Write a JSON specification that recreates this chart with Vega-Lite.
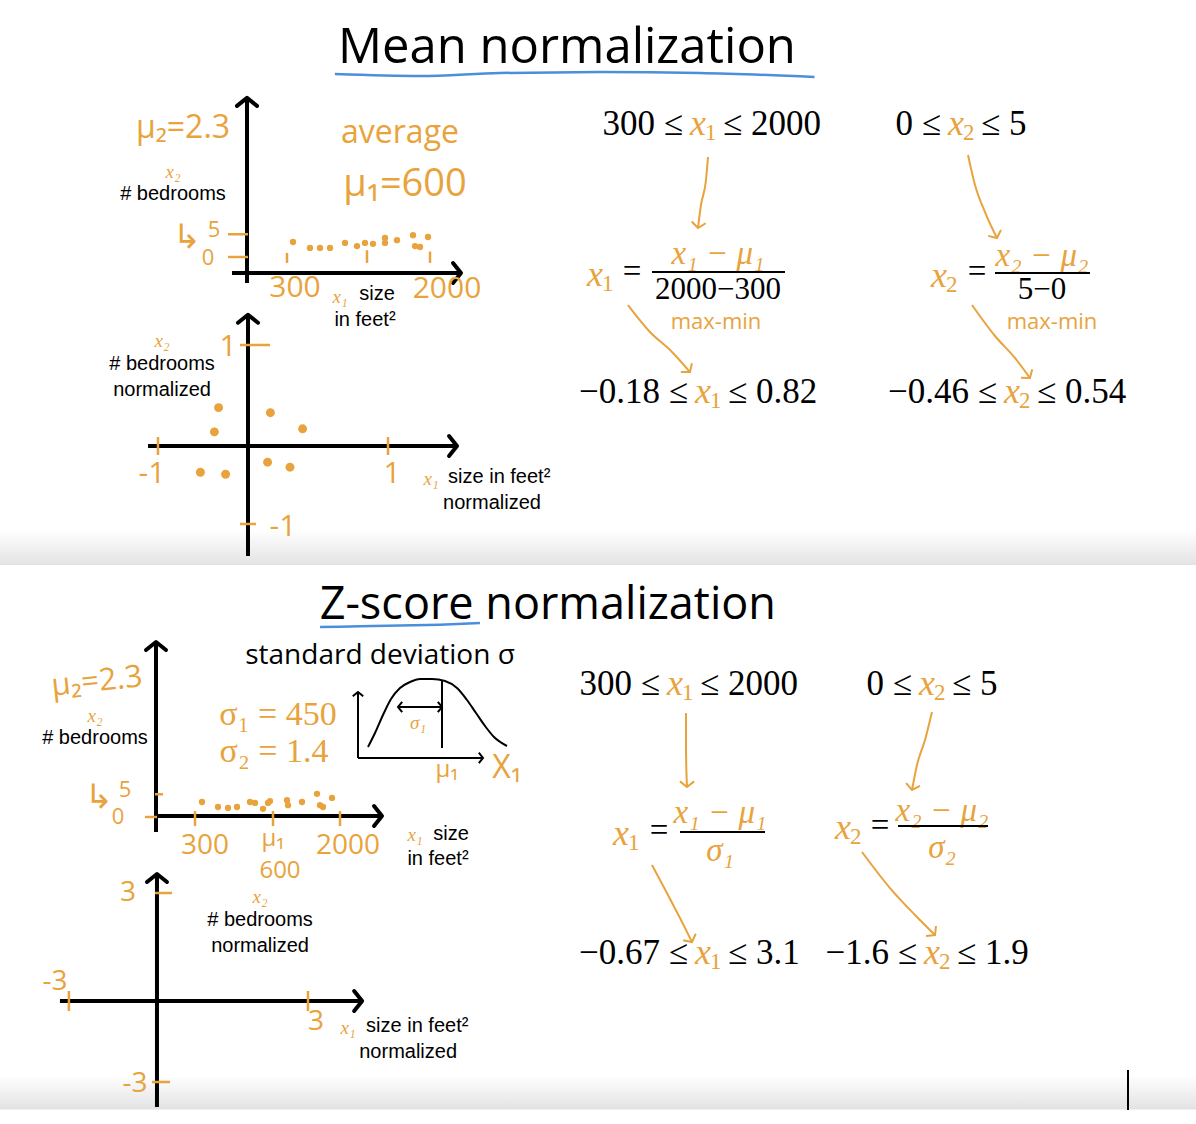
{
"$schema": "https://vega.github.io/schema/vega-lite/v6.json",
"padding": 0,
"background": "white",
"spacing": 0,
"bounds": "flush",
"config": {"view": {"stroke": null}, "axis": {"disable": true}},
"vconcat": [
{
 "width": 1196, "height": 95,
 "encoding": {
  "x": {"field": "fx", "type": "quantitative", "scale": {"domain": [0, 1], "nice": false, "zero": false}, "axis": null},
  "y": {"field": "fy", "type": "quantitative", "scale": {"domain": [0, 1], "nice": false, "zero": false, "reverse": true}, "axis": null}
 },
 "layer": [
  {"data": {"values": [{"fx": 0.474, "fy": 0.66, "label": "Mean normalization"}]},
   "mark": {"type": "text", "font": "Open Sans", "fontSize": 49, "fill": "black", "baseline": "alphabetic", "align": "center"},
   "encoding": {"text": {"field": "label"}}},
  {"data": {"values": [{"fx": 0.280, "fy": 0.779}, {"fx": 0.351, "fy": 0.80}, {"fx": 0.418, "fy": 0.768}, {"fx": 0.502, "fy": 0.758}, {"fx": 0.585, "fy": 0.768}, {"fx": 0.681, "fy": 0.81}]},
   "mark": {"type": "line", "stroke": "#4A8FDB", "strokeWidth": 2.5, "interpolate": "monotone"},
   "encoding": {}}
 ]
},
{
 "width": 1196, "height": 470,
 "view": {"fill": {"gradient": "linear", "x1": 0, "y1": 0, "x2": 0, "y2": 1, "stops": [{"offset": 0, "color": "#ffffff"}, {"offset": 0.925, "color": "#ffffff"}, {"offset": 1, "color": "#e3e3e3"}]}},
 "resolve": {"scale": {"x": "independent", "y": "independent"}},
 "layer": [
  {
   "encoding": {
    "x": {"field": "sqft", "type": "quantitative", "scale": {"domain": [-3144, 11208], "nice": false, "zero": false}, "axis": null},
    "y": {"field": "bedrooms", "type": "quantitative", "scale": {"domain": [-67.76, 35.64], "nice": false, "zero": false}, "axis": null}
   },
   "layer": [
    {"data": {"values": [{"sqft": -180, "bedrooms": -5.72, "sqft2": -180, "bedrooms2": 35.0}, {"sqft": -360, "bedrooms": -3.52, "sqft2": 2388, "bedrooms2": -3.52}]},
     "mark": {"type": "rule", "stroke": "black", "strokeWidth": 4},
     "encoding": {"x2": {"field": "sqft2"}, "y2": {"field": "bedrooms2"}}},
    {"data": {"values": [{"sqft": -180, "bedrooms": 35.0, "heading": 0}, {"sqft": 2388, "bedrooms": -3.52, "heading": 90}]},
     "mark": {"type": "point", "shape": "M-1,0.8L0,0L1,0.8", "filled": false, "stroke": "black", "strokeWidth": 4, "size": 400, "opacity": 1, "strokeCap": "round", "strokeJoin": "round"},
     "encoding": {"angle": {"field": "heading", "type": "quantitative", "scale": null}}},
    {"data": {"values": [{"sqft": -408, "bedrooms": 5, "sqft2": -168, "bedrooms2": 5}, {"sqft": -408, "bedrooms": 0, "sqft2": -168, "bedrooms2": 0}, {"sqft": 300, "bedrooms": 0.9, "sqft2": 300, "bedrooms2": -1.3}, {"sqft": 1260, "bedrooms": 1.5, "sqft2": 1260, "bedrooms2": -1.3}, {"sqft": 2016, "bedrooms": 1.2, "sqft2": 2016, "bedrooms2": -1.3}]},
     "mark": {"type": "rule", "stroke": "#E8A33C", "strokeWidth": 2.5},
     "encoding": {"x2": {"field": "sqft2"}, "y2": {"field": "bedrooms2"}}},
    {"data": {"values": [{"sqft": 372, "bedrooms": 3.3}, {"sqft": 576, "bedrooms": 2.0}, {"sqft": 696, "bedrooms": 2.0}, {"sqft": 816, "bedrooms": 2.0}, {"sqft": 996, "bedrooms": 3.1}, {"sqft": 1140, "bedrooms": 2.4}, {"sqft": 1236, "bedrooms": 3.1}, {"sqft": 1332, "bedrooms": 2.9}, {"sqft": 1476, "bedrooms": 4.2}, {"sqft": 1476, "bedrooms": 3.1}, {"sqft": 1620, "bedrooms": 3.7}, {"sqft": 1812, "bedrooms": 4.8}, {"sqft": 1992, "bedrooms": 4.4}, {"sqft": 1836, "bedrooms": 2.4}, {"sqft": 1896, "bedrooms": 2.2}]},
     "mark": {"type": "point", "filled": true, "shape": "circle", "fill": "#E8A33C", "size": 40, "opacity": 1}},
    {"data": {"values": [{"sqft": 1716, "bedrooms": 15.84, "label": "μ₁=600"}]},
     "mark": {"type": "text", "font": "Open Sans", "fontSize": 38, "fill": "#E8A33C", "baseline": "middle", "align": "center"},
     "encoding": {"text": {"field": "label"}}},
    {"data": {"values": [{"sqft": -948, "bedrooms": 28.4, "label": "μ₂=2.3"}, {"sqft": 1656, "bedrooms": 27.3, "label": "average"}]},
     "mark": {"type": "text", "font": "Open Sans", "fontSize": 32, "fill": "#E8A33C", "baseline": "middle", "align": "center"},
     "encoding": {"text": {"field": "label"}}},
    {"data": {"values": [{"sqft": 396, "bedrooms": -6.82, "label": "300"}, {"sqft": 2220, "bedrooms": -7.04, "label": "2000"}]},
     "mark": {"type": "text", "font": "Open Sans", "fontSize": 30, "fill": "#E8A33C", "baseline": "middle", "align": "center"},
     "encoding": {"text": {"field": "label"}}},
    {"data": {"values": [{"sqft": -900, "bedrooms": 4.2, "label": "↳"}]},
     "mark": {"type": "text", "font": "DejaVu Sans", "fontSize": 34, "fill": "#E8A33C", "baseline": "middle", "align": "center"},
     "encoding": {"text": {"field": "label"}}},
    {"data": {"values": [{"sqft": -576, "bedrooms": 5.94, "label": "5"}, {"sqft": -648, "bedrooms": -0.22, "label": "0"}]},
     "mark": {"type": "text", "font": "Open Sans", "fontSize": 22, "fill": "#E8A33C", "baseline": "middle", "align": "center"},
     "encoding": {"text": {"field": "label"}}},
    {"data": {"values": [{"sqft": -1068, "bedrooms": 18.7, "label": "x₂"}, {"sqft": 936, "bedrooms": -8.8, "label": "x₁"}]},
     "mark": {"type": "text", "font": "Liberation Serif", "fontStyle": "italic", "fontSize": 19, "fill": "#E8A33C", "baseline": "middle", "align": "center"},
     "encoding": {"text": {"field": "label"}}},
    {"data": {"values": [{"sqft": -1068, "bedrooms": 13.86, "label": "# bedrooms"}, {"sqft": 1380, "bedrooms": -8.14, "label": "size"}, {"sqft": 1236, "bedrooms": -13.86, "label": "in feet²"}]},
     "mark": {"type": "text", "font": "Liberation Sans", "fontSize": 20, "fill": "black", "baseline": "middle", "align": "center"},
     "encoding": {"text": {"field": "label"}}}
   ]
  },
  {
   "encoding": {
    "x": {"field": "x1n", "type": "quantitative", "scale": {"domain": [-1.7714, 6.7714], "nice": false, "zero": false}, "axis": null},
    "y": {"field": "x2n", "type": "quantitative", "scale": {"domain": [-1.1782, 3.4752], "nice": false, "zero": false}, "axis": null}
   },
   "layer": [
    {"data": {"values": [{"x1n": 0, "x2n": -1.089, "x1n2": 0, "x2n2": 1.30}, {"x1n": -0.714, "x2n": 0, "x1n2": 1.493, "x2n2": 0}]},
     "mark": {"type": "rule", "stroke": "black", "strokeWidth": 4},
     "encoding": {"x2": {"field": "x1n2"}, "y2": {"field": "x2n2"}}},
    {"data": {"values": [{"x1n": 0, "x2n": 1.30, "heading": 0}, {"x1n": 1.493, "x2n": 0, "heading": 90}]},
     "mark": {"type": "point", "shape": "M-1,0.8L0,0L1,0.8", "filled": false, "stroke": "black", "strokeWidth": 4, "size": 400, "opacity": 1, "strokeCap": "round", "strokeJoin": "round"},
     "encoding": {"angle": {"field": "heading", "type": "quantitative", "scale": null}}},
    {"data": {"values": [{"x1n": -0.643, "x2n": 0.089, "x1n2": -0.643, "x2n2": -0.089}, {"x1n": 1.0, "x2n": 0.089, "x1n2": 1.0, "x2n2": -0.089}, {"x1n": -0.057, "x2n": 1.0, "x1n2": 0.157, "x2n2": 1.0}, {"x1n": -0.057, "x2n": -0.772, "x1n2": 0.057, "x2n2": -0.772}]},
     "mark": {"type": "rule", "stroke": "#E8A33C", "strokeWidth": 2.5},
     "encoding": {"x2": {"field": "x1n2"}, "y2": {"field": "x2n2"}}},
    {"data": {"values": [{"x1n": -0.21, "x2n": 0.38}, {"x1n": -0.24, "x2n": 0.14}, {"x1n": -0.34, "x2n": -0.26}, {"x1n": -0.16, "x2n": -0.28}, {"x1n": 0.16, "x2n": 0.33}, {"x1n": 0.39, "x2n": 0.17}, {"x1n": 0.14, "x2n": -0.16}, {"x1n": 0.30, "x2n": -0.21}]},
     "mark": {"type": "point", "filled": true, "shape": "circle", "fill": "#E8A33C", "size": 80, "opacity": 1}},
    {"data": {"values": [{"x1n": -0.143, "x2n": 0.98, "label": "1"}, {"x1n": -0.686, "x2n": -0.277, "label": "-1"}, {"x1n": 1.029, "x2n": -0.277, "label": "1"}, {"x1n": 0.25, "x2n": -0.80, "label": "-1"}]},
     "mark": {"type": "text", "font": "Open Sans", "fontSize": 30, "fill": "#E8A33C", "baseline": "middle", "align": "center"},
     "encoding": {"text": {"field": "label"}}},
    {"data": {"values": [{"x1n": -0.614, "x2n": 1.04, "label": "x₂"}, {"x1n": 1.307, "x2n": -0.327, "label": "x₁"}]},
     "mark": {"type": "text", "font": "Liberation Serif", "fontStyle": "italic", "fontSize": 19, "fill": "#E8A33C", "baseline": "middle", "align": "center"},
     "encoding": {"text": {"field": "label"}}},
    {"data": {"values": [{"x1n": -0.614, "x2n": 0.812, "label": "# bedrooms"}, {"x1n": -0.614, "x2n": 0.554, "label": "normalized"}, {"x1n": 1.743, "x2n": -0.564, "label": "normalized"}]},
     "mark": {"type": "text", "font": "Liberation Sans", "fontSize": 20, "fill": "black", "baseline": "middle", "align": "center"},
     "encoding": {"text": {"field": "label"}}},
    {"data": {"values": [{"x1n": 1.429, "x2n": -0.307, "label": "size in feet²"}]},
     "mark": {"type": "text", "font": "Liberation Sans", "fontSize": 20, "fill": "black", "baseline": "middle", "align": "left"},
     "encoding": {"text": {"field": "label"}}}
   ]
  },
  {
   "encoding": {
    "x": {"field": "col", "type": "quantitative", "scale": {"domain": [-1.35, 2.6367], "nice": false, "zero": false}, "axis": null},
    "y": {"field": "row", "type": "quantitative", "scale": {"domain": [0.7836, 4.291], "nice": false, "zero": false, "reverse": true}, "axis": null}
   },
   "layer": [
    {"data": {"values": [{"col": 0.9267, "row": 1, "label": "300 ≤"}, {"col": 1.7867, "row": 1, "label": "0 ≤"}, {"col": 0.9433, "row": 3, "label": "−0.18 ≤"}, {"col": 1.9733, "row": 3, "label": "−0.46 ≤"}]},
     "mark": {"type": "text", "font": "Liberation Serif", "fontSize": 35, "fill": "black", "baseline": "middle", "align": "right"},
     "encoding": {"text": {"field": "label"}}},
    {"data": {"values": [{"col": 1.06, "row": 1, "label": "≤ 2000"}, {"col": 1.92, "row": 1, "label": "≤ 5"}, {"col": 1.0767, "row": 3, "label": "≤ 0.82"}, {"col": 2.1067, "row": 3, "label": "≤ 0.54"}]},
     "mark": {"type": "text", "font": "Liberation Serif", "fontSize": 35, "fill": "black", "baseline": "middle", "align": "left"},
     "encoding": {"text": {"field": "label"}}},
    {"data": {"values": [{"col": 0.9933, "row": 1, "name": "x", "sub": "1"}, {"col": 1.8533, "row": 1, "name": "x", "sub": "2"}, {"col": 1.01, "row": 3, "name": "x", "sub": "1"}, {"col": 2.04, "row": 3, "name": "x", "sub": "2"}, {"col": 0.65, "row": 2.127, "name": "x", "sub": "1"}, {"col": 1.7967, "row": 2.134, "name": "x", "sub": "2"}]},
     "layer": [
      {"mark": {"type": "text", "font": "Liberation Serif", "fontStyle": "italic", "fontSize": 36, "fill": "#E8A33C", "baseline": "middle", "align": "center", "dx": -5},
       "encoding": {"text": {"field": "name"}}},
      {"mark": {"type": "text", "font": "Liberation Serif", "fontSize": 23, "fill": "#E8A33C", "baseline": "middle", "align": "left", "dx": 2, "dy": 9},
       "encoding": {"text": {"field": "sub"}}}
     ]},
    {"data": {"values": [{"col": 0.7567, "row": 2.104, "label": "="}, {"col": 1.9067, "row": 2.104, "label": "="}]},
     "mark": {"type": "text", "font": "Liberation Serif", "fontSize": 33, "fill": "black", "baseline": "middle", "align": "center"},
     "encoding": {"text": {"field": "label"}}},
    {"data": {"values": [{"col": 1.0433, "row": 2.238, "label": "2000−300"}, {"col": 2.1233, "row": 2.24, "label": "5−0"}]},
     "mark": {"type": "text", "font": "Liberation Serif", "fontSize": 31, "fill": "black", "baseline": "middle", "align": "center"},
     "encoding": {"text": {"field": "label"}}},
    {"data": {"values": [{"col": 1.0433, "row": 1.97, "label": "x₁ − μ₁"}, {"col": 2.1233, "row": 1.985, "label": "x₂ − μ₂"}]},
     "mark": {"type": "text", "font": "Liberation Serif", "fontStyle": "italic", "fontSize": 33, "fill": "#E8A33C", "baseline": "middle", "align": "center"},
     "encoding": {"text": {"field": "label"}}},
    {"data": {"values": [{"col": 0.8233, "row": 2.104, "col2": 1.2667}, {"col": 1.9667, "row": 2.112, "col2": 2.2833}]},
     "mark": {"type": "rule", "stroke": "black", "strokeWidth": 2},
     "encoding": {"x2": {"field": "col2"}}},
    {"data": {"values": [{"col": 1.0367, "row": 2.475, "label": "max-min"}, {"col": 2.1567, "row": 2.475, "label": "max-min"}]},
     "mark": {"type": "text", "font": "Open Sans", "fontSize": 22, "fill": "#E8A33C", "baseline": "middle", "align": "center"},
     "encoding": {"text": {"field": "label"}}},
    {"data": {"values": [
      {"arrow": "a1", "seq": 1, "col": 1.01, "row": 1.246}, {"arrow": "a1", "seq": 2, "col": 1.0033, "row": 1.418}, {"arrow": "a1", "seq": 3, "col": 0.9867, "row": 1.604}, {"arrow": "a1", "seq": 4, "col": 0.9767, "row": 1.776},
      {"arrow": "a2", "seq": 1, "col": 1.8767, "row": 1.231}, {"arrow": "a2", "seq": 2, "col": 1.9, "row": 1.455}, {"arrow": "a2", "seq": 3, "col": 1.9333, "row": 1.657}, {"arrow": "a2", "seq": 4, "col": 1.9733, "row": 1.851},
      {"arrow": "a3", "seq": 1, "col": 0.7433, "row": 2.351}, {"arrow": "a3", "seq": 2, "col": 0.8167, "row": 2.552}, {"arrow": "a3", "seq": 3, "col": 0.89, "row": 2.701}, {"arrow": "a3", "seq": 4, "col": 0.95, "row": 2.851},
      {"arrow": "a4", "seq": 1, "col": 1.89, "row": 2.351}, {"arrow": "a4", "seq": 2, "col": 1.9667, "row": 2.582}, {"arrow": "a4", "seq": 3, "col": 2.0333, "row": 2.746}, {"arrow": "a4", "seq": 4, "col": 2.0833, "row": 2.896}
     ]},
     "mark": {"type": "line", "stroke": "#E8A33C", "strokeWidth": 2, "interpolate": "monotone"},
     "encoding": {"detail": {"field": "arrow"}, "order": {"field": "seq", "type": "quantitative"}}},
    {"data": {"values": [{"col": 0.9767, "row": 1.776, "heading": 187}, {"col": 1.9733, "row": 1.851, "heading": 155}, {"col": 0.95, "row": 2.851, "heading": 141}, {"col": 2.0833, "row": 2.896, "heading": 143}]},
     "mark": {"type": "point", "shape": "M-1,0.8L0,0L1,0.8", "filled": false, "stroke": "#E8A33C", "strokeWidth": 2, "size": 200, "opacity": 1},
     "encoding": {"angle": {"field": "heading", "type": "quantitative", "scale": null}}}
   ]
  }
 ]
},
{
 "width": 1196, "height": 70,
 "encoding": {
  "x": {"field": "fx", "type": "quantitative", "scale": {"domain": [0, 1], "nice": false, "zero": false}, "axis": null},
  "y": {"field": "fy", "type": "quantitative", "scale": {"domain": [0, 1], "nice": false, "zero": false, "reverse": true}, "axis": null}
 },
 "layer": [
  {"data": {"values": [{"fx": 0.458, "fy": 0.771, "label": "Z-score normalization"}]},
   "mark": {"type": "text", "font": "Open Sans", "fontSize": 45, "fill": "black", "baseline": "alphabetic", "align": "center"},
   "encoding": {"text": {"field": "label"}}},
  {"data": {"values": [{"fx": 0.2676, "fy": 0.886}, {"fx": 0.301, "fy": 0.876}, {"fx": 0.3344, "fy": 0.866}, {"fx": 0.3679, "fy": 0.853}, {"fx": 0.4013, "fy": 0.83}]},
   "mark": {"type": "line", "stroke": "#4A8FDB", "strokeWidth": 2.5, "interpolate": "monotone"},
   "encoding": {}}
 ]
},
{
 "width": 1196, "height": 489,
 "view": {"fill": {"gradient": "linear", "x1": 0, "y1": 0, "x2": 0, "y2": 1, "stops": [{"offset": 0, "color": "#ffffff"}, {"offset": 0.9, "color": "#ffffff"}, {"offset": 0.969, "color": "#e3e3e3"}, {"offset": 0.972, "color": "#ffffff"}, {"offset": 1, "color": "#ffffff"}]}},
 "resolve": {"scale": {"x": "independent", "y": "independent"}},
 "layer": [
  {
   "encoding": {
    "x": {"field": "sqft", "type": "quantitative", "scale": {"domain": [-2040, 12312], "nice": false, "zero": false}, "axis": null},
    "y": {"field": "bedrooms", "type": "quantitative", "scale": {"domain": [-67.54, 40.04], "nice": false, "zero": false}, "axis": null}
   },
   "layer": [
    {"data": {"values": [{"sqft": -168, "bedrooms": -3.3, "sqft2": -168, "bedrooms2": 38.5}, {"sqft": -144, "bedrooms": 0.22, "sqft2": 2544, "bedrooms2": 0.22}]},
     "mark": {"type": "rule", "stroke": "black", "strokeWidth": 4},
     "encoding": {"x2": {"field": "sqft2"}, "y2": {"field": "bedrooms2"}}},
    {"data": {"values": [{"sqft": -168, "bedrooms": 38.5, "heading": 0}, {"sqft": 2544, "bedrooms": 0.22, "heading": 90}]},
     "mark": {"type": "point", "shape": "M-1,0.8L0,0L1,0.8", "filled": false, "stroke": "black", "strokeWidth": 4, "size": 400, "opacity": 1, "strokeCap": "round", "strokeJoin": "round"},
     "encoding": {"angle": {"field": "heading", "type": "quantitative", "scale": null}}},
    {"data": {"values": [{"sqft": 2256, "bedrooms": 13.0, "sqft2": 2256, "bedrooms2": 27.5}, {"sqft": 2256, "bedrooms": 13.0, "sqft2": 3756, "bedrooms2": 13.0}, {"sqft": 3264, "bedrooms": 15.2, "sqft2": 3264, "bedrooms2": 30.1}, {"sqft": 2736, "bedrooms": 24.2, "sqft2": 3264, "bedrooms2": 24.2}]},
     "mark": {"type": "rule", "stroke": "black", "strokeWidth": 2},
     "encoding": {"x2": {"field": "sqft2"}, "y2": {"field": "bedrooms2"}}},
    {"data": {"values": [{"sqft": 2256, "bedrooms": 27.5, "heading": 0}, {"sqft": 3756, "bedrooms": 13.0, "heading": 90}, {"sqft": 2736, "bedrooms": 24.2, "heading": 270}, {"sqft": 3264, "bedrooms": 24.2, "heading": 90}]},
     "mark": {"type": "point", "shape": "M-1,0.8L0,0L1,0.8", "filled": false, "stroke": "black", "strokeWidth": 2, "size": 110, "opacity": 1},
     "encoding": {"angle": {"field": "heading", "type": "quantitative", "scale": null}}},
    {"data": {"values": [{"sqft": 2376, "bedrooms": 15.4}, {"sqft": 2460, "bedrooms": 18.48}, {"sqft": 2556, "bedrooms": 22.44}, {"sqft": 2652, "bedrooms": 25.96}, {"sqft": 2760, "bedrooms": 28.38}, {"sqft": 2880, "bedrooms": 29.7}, {"sqft": 3000, "bedrooms": 30.36}, {"sqft": 3144, "bedrooms": 30.36}, {"sqft": 3300, "bedrooms": 29.92}, {"sqft": 3444, "bedrooms": 28.38}, {"sqft": 3564, "bedrooms": 25.74}, {"sqft": 3672, "bedrooms": 22.88}, {"sqft": 3780, "bedrooms": 20.02}, {"sqft": 3888, "bedrooms": 17.6}, {"sqft": 4044, "bedrooms": 15.62}]},
     "mark": {"type": "line", "stroke": "black", "strokeWidth": 2, "interpolate": "monotone"},
     "encoding": {}},
    {"data": {"values": [{"sqft": -180, "bedrooms": 5, "sqft2": -84, "bedrooms2": 5}, {"sqft": -300, "bedrooms": 0, "sqft2": -156, "bedrooms2": 0}, {"sqft": 300, "bedrooms": 1.3, "sqft2": 300, "bedrooms2": -2.0}, {"sqft": 1236, "bedrooms": 1.3, "sqft2": 1236, "bedrooms2": -2.0}, {"sqft": 2040, "bedrooms": 1.3, "sqft2": 2040, "bedrooms2": -2.0}]},
     "mark": {"type": "rule", "stroke": "#E8A33C", "strokeWidth": 2.5},
     "encoding": {"x2": {"field": "sqft2"}, "y2": {"field": "bedrooms2"}}},
    {"data": {"values": [{"sqft": 384, "bedrooms": 3.3}, {"sqft": 576, "bedrooms": 2.2}, {"sqft": 696, "bedrooms": 2.0}, {"sqft": 804, "bedrooms": 2.2}, {"sqft": 960, "bedrooms": 3.3}, {"sqft": 1020, "bedrooms": 3.1}, {"sqft": 1116, "bedrooms": 1.8}, {"sqft": 1176, "bedrooms": 3.1}, {"sqft": 1200, "bedrooms": 3.5}, {"sqft": 1404, "bedrooms": 3.7}, {"sqft": 1416, "bedrooms": 2.6}, {"sqft": 1584, "bedrooms": 3.3}, {"sqft": 1764, "bedrooms": 5.1}, {"sqft": 1944, "bedrooms": 4.2}, {"sqft": 1836, "bedrooms": 2.2}, {"sqft": 1800, "bedrooms": 2.6}]},
     "mark": {"type": "point", "filled": true, "shape": "circle", "fill": "#E8A33C", "size": 40, "opacity": 1}},
    {"data": {"values": [{"sqft": -876, "bedrooms": 29.7, "label": "μ₂=2.3"}]},
     "mark": {"type": "text", "font": "Open Sans", "fontSize": 31, "fill": "#E8A33C", "baseline": "middle", "align": "center", "angle": -6},
     "encoding": {"text": {"field": "label"}}},
    {"data": {"values": [{"sqft": 4044, "bedrooms": 10.8, "label": "X₁"}]},
     "mark": {"type": "text", "font": "Open Sans", "fontSize": 32, "fill": "#E8A33C", "baseline": "middle", "align": "center"},
     "encoding": {"text": {"field": "label"}}},
    {"data": {"values": [{"sqft": 420, "bedrooms": -6.4, "label": "300"}, {"sqft": 2136, "bedrooms": -6.4, "label": "2000"}]},
     "mark": {"type": "text", "font": "Open Sans", "fontSize": 28, "fill": "#E8A33C", "baseline": "middle", "align": "center"},
     "encoding": {"text": {"field": "label"}}},
    {"data": {"values": [{"sqft": 1320, "bedrooms": -11.9, "label": "600"}, {"sqft": 1236, "bedrooms": -4.8, "label": "μ₁"}, {"sqft": 3324, "bedrooms": 10.3, "label": "μ₁"}]},
     "mark": {"type": "text", "font": "Open Sans", "fontSize": 24, "fill": "#E8A33C", "baseline": "middle", "align": "center"},
     "encoding": {"text": {"field": "label"}}},
    {"data": {"values": [{"sqft": -852, "bedrooms": 4.2, "label": "↳"}]},
     "mark": {"type": "text", "font": "DejaVu Sans", "fontSize": 34, "fill": "#E8A33C", "baseline": "middle", "align": "center"},
     "encoding": {"text": {"field": "label"}}},
    {"data": {"values": [{"sqft": -540, "bedrooms": 5.94, "label": "5"}, {"sqft": -624, "bedrooms": 0, "label": "0"}]},
     "mark": {"type": "text", "font": "Open Sans", "fontSize": 22, "fill": "#E8A33C", "baseline": "middle", "align": "center"},
     "encoding": {"text": {"field": "label"}}},
    {"data": {"values": [{"sqft": -900, "bedrooms": 22.2, "label": "x₂"}, {"sqft": 2940, "bedrooms": -4.0, "label": "x₁"}, {"sqft": 2976, "bedrooms": 20.7, "label": "σ₁"}]},
     "mark": {"type": "text", "font": "Liberation Serif", "fontStyle": "italic", "fontSize": 19, "fill": "#E8A33C", "baseline": "middle", "align": "center"},
     "encoding": {"text": {"field": "label"}}},
    {"data": {"values": [{"sqft": 1296, "bedrooms": 22.4, "label": "σ₁ = 450"}, {"sqft": 1248, "bedrooms": 14.3, "label": "σ₂ = 1.4"}]},
     "mark": {"type": "text", "font": "Liberation Serif", "fontSize": 34, "fill": "#E8A33C", "baseline": "middle", "align": "center"},
     "encoding": {"text": {"field": "label"}}},
    {"data": {"values": [{"sqft": -900, "bedrooms": 17.4, "label": "# bedrooms"}, {"sqft": 3372, "bedrooms": -3.74, "label": "size"}, {"sqft": 3216, "bedrooms": -9.24, "label": "in feet²"}]},
     "mark": {"type": "text", "font": "Liberation Sans", "fontSize": 20, "fill": "black", "baseline": "middle", "align": "center"},
     "encoding": {"text": {"field": "label"}}},
    {"data": {"values": [{"sqft": 2520, "bedrooms": 35.4, "label": "standard deviation σ"}]},
     "mark": {"type": "text", "font": "Open Sans", "fontSize": 28, "fill": "black", "baseline": "middle", "align": "center"},
     "encoding": {"text": {"field": "label"}}}
   ]
  },
  {
   "encoding": {
    "x": {"field": "z1", "type": "quantitative", "scale": {"domain": [-3.119, 20.644], "nice": false, "zero": false}, "axis": null},
    "y": {"field": "z2", "type": "quantitative", "scale": {"domain": [-3.417, 10.167], "nice": false, "zero": false}, "axis": null}
   },
   "layer": [
    {"data": {"values": [{"z1": 0, "z2": -2.944, "z1b": 0, "z2b": 3.528}, {"z1": -1.928, "z2": 0, "z1b": 4.076, "z2b": 0}]},
     "mark": {"type": "rule", "stroke": "black", "strokeWidth": 4},
     "encoding": {"x2": {"field": "z1b"}, "y2": {"field": "z2b"}}},
    {"data": {"values": [{"z1": 0, "z2": 3.528, "heading": 0}, {"z1": 4.076, "z2": 0, "heading": 90}]},
     "mark": {"type": "point", "shape": "M-1,0.8L0,0L1,0.8", "filled": false, "stroke": "black", "strokeWidth": 4, "size": 400, "opacity": 1, "strokeCap": "round", "strokeJoin": "round"},
     "encoding": {"angle": {"field": "heading", "type": "quantitative", "scale": null}}},
    {"data": {"values": [{"z1": -1.75, "z2": 0.278, "z1b": -1.75, "z2b": -0.278}, {"z1": 3.0, "z2": 0.278, "z1b": 3.0, "z2b": -0.278}, {"z1": -0.04, "z2": 3.0, "z1b": 0.3, "z2b": 3.0}, {"z1": -0.1, "z2": -2.25, "z1b": 0.26, "z2b": -2.25}]},
     "mark": {"type": "rule", "stroke": "#E8A33C", "strokeWidth": 2.5},
     "encoding": {"x2": {"field": "z1b"}, "y2": {"field": "z2b"}}},
    {"data": {"values": [{"z1": -0.577, "z2": 3.0, "label": "3"}, {"z1": -2.028, "z2": 0.528, "label": "-3"}, {"z1": 3.16, "z2": -0.583, "label": "3"}, {"z1": -0.437, "z2": -2.306, "label": "-3"}]},
     "mark": {"type": "text", "font": "Open Sans", "fontSize": 28, "fill": "#E8A33C", "baseline": "middle", "align": "center"},
     "encoding": {"text": {"field": "label"}}},
    {"data": {"values": [{"z1": 2.048, "z2": 2.889, "label": "x₂"}, {"z1": 3.797, "z2": -0.75, "label": "x₁"}]},
     "mark": {"type": "text", "font": "Liberation Serif", "fontStyle": "italic", "fontSize": 19, "fill": "#E8A33C", "baseline": "middle", "align": "center"},
     "encoding": {"text": {"field": "label"}}},
    {"data": {"values": [{"z1": 2.048, "z2": 2.25, "label": "# bedrooms"}, {"z1": 2.048, "z2": 1.528, "label": "normalized"}, {"z1": 4.99, "z2": -1.417, "label": "normalized"}]},
     "mark": {"type": "text", "font": "Liberation Sans", "fontSize": 20, "fill": "black", "baseline": "middle", "align": "center"},
     "encoding": {"text": {"field": "label"}}},
    {"data": {"values": [{"z1": 4.155, "z2": -0.694, "label": "size in feet²"}]},
     "mark": {"type": "text", "font": "Liberation Sans", "fontSize": 20, "fill": "black", "baseline": "middle", "align": "left"},
     "encoding": {"text": {"field": "label"}}}
   ]
  },
  {
   "encoding": {
    "x": {"field": "col", "type": "quantitative", "scale": {"domain": [-1.74, 3.044], "nice": false, "zero": false}, "axis": null},
    "y": {"field": "row", "type": "quantitative", "scale": {"domain": [0.636, 4.271], "nice": false, "zero": false, "reverse": true}, "axis": null}
   },
   "layer": [
    {"data": {"values": [{"col": 0.90, "row": 1, "label": "300 ≤"}, {"col": 1.908, "row": 1, "label": "0 ≤"}, {"col": 1.012, "row": 3, "label": "−0.67 ≤"}, {"col": 1.928, "row": 3, "label": "−1.6 ≤"}]},
     "mark": {"type": "text", "font": "Liberation Serif", "fontSize": 35, "fill": "black", "baseline": "middle", "align": "right"},
     "encoding": {"text": {"field": "label"}}},
    {"data": {"values": [{"col": 1.06, "row": 1, "label": "≤ 2000"}, {"col": 2.068, "row": 1, "label": "≤ 5"}, {"col": 1.172, "row": 3, "label": "≤ 3.1"}, {"col": 2.088, "row": 3, "label": "≤ 1.9"}]},
     "mark": {"type": "text", "font": "Liberation Serif", "fontSize": 35, "fill": "black", "baseline": "middle", "align": "left"},
     "encoding": {"text": {"field": "label"}}},
    {"data": {"values": [{"col": 0.98, "row": 1, "name": "x", "sub": "1"}, {"col": 1.988, "row": 1, "name": "x", "sub": "2"}, {"col": 1.092, "row": 3, "name": "x", "sub": "1"}, {"col": 2.008, "row": 3, "name": "x", "sub": "2"}, {"col": 0.764, "row": 2.115, "name": "x", "sub": "1"}, {"col": 1.652, "row": 2.071, "name": "x", "sub": "2"}]},
     "layer": [
      {"mark": {"type": "text", "font": "Liberation Serif", "fontStyle": "italic", "fontSize": 36, "fill": "#E8A33C", "baseline": "middle", "align": "center", "dx": -5},
       "encoding": {"text": {"field": "name"}}},
      {"mark": {"type": "text", "font": "Liberation Serif", "fontSize": 23, "fill": "#E8A33C", "baseline": "middle", "align": "left", "dx": 2, "dy": 9},
       "encoding": {"text": {"field": "sub"}}}
     ]},
    {"data": {"values": [{"col": 0.896, "row": 2.093, "label": "="}, {"col": 1.78, "row": 2.056, "label": "="}]},
     "mark": {"type": "text", "font": "Liberation Serif", "fontSize": 33, "fill": "black", "baseline": "middle", "align": "center"},
     "encoding": {"text": {"field": "label"}}},
    {"data": {"values": [{"col": 1.14, "row": 1.959, "label": "x₁ − μ₁"}, {"col": 2.028, "row": 1.944, "label": "x₂ − μ₂"}, {"col": 1.14, "row": 2.242, "label": "σ₁"}, {"col": 2.028, "row": 2.219, "label": "σ₂"}]},
     "mark": {"type": "text", "font": "Liberation Serif", "fontStyle": "italic", "fontSize": 33, "fill": "#E8A33C", "baseline": "middle", "align": "center"},
     "encoding": {"text": {"field": "label"}}},
    {"data": {"values": [{"col": 0.98, "row": 2.1, "col2": 1.32}, {"col": 1.852, "row": 2.056, "col2": 2.212}]},
     "mark": {"type": "rule", "stroke": "black", "strokeWidth": 2},
     "encoding": {"x2": {"field": "col2"}}},
    {"data": {"values": [
      {"arrow": "b1", "seq": 1, "col": 1.004, "row": 1.216}, {"arrow": "b1", "seq": 2, "col": 1.004, "row": 1.491}, {"arrow": "b1", "seq": 3, "col": 1.008, "row": 1.766},
      {"arrow": "b2", "seq": 1, "col": 1.988, "row": 1.208}, {"arrow": "b2", "seq": 2, "col": 1.96, "row": 1.416}, {"arrow": "b2", "seq": 3, "col": 1.928, "row": 1.602}, {"arrow": "b2", "seq": 4, "col": 1.908, "row": 1.788},
      {"arrow": "b3", "seq": 1, "col": 0.868, "row": 2.346}, {"arrow": "b3", "seq": 2, "col": 0.932, "row": 2.569}, {"arrow": "b3", "seq": 3, "col": 0.98, "row": 2.74}, {"arrow": "b3", "seq": 4, "col": 1.028, "row": 2.918},
      {"arrow": "b4", "seq": 1, "col": 1.708, "row": 2.249}, {"arrow": "b4", "seq": 2, "col": 1.82, "row": 2.517}, {"arrow": "b4", "seq": 3, "col": 1.92, "row": 2.717}, {"arrow": "b4", "seq": 4, "col": 2.0, "row": 2.866}
     ]},
     "mark": {"type": "line", "stroke": "#E8A33C", "strokeWidth": 2, "interpolate": "monotone"},
     "encoding": {"detail": {"field": "arrow"}, "order": {"field": "seq", "type": "quantitative"}}},
    {"data": {"values": [{"col": 1.008, "row": 1.766, "heading": 180}, {"col": 1.908, "row": 1.788, "heading": 191}, {"col": 1.028, "row": 2.918, "heading": 153}, {"col": 2.0, "row": 2.866, "heading": 135}]},
     "mark": {"type": "point", "shape": "M-1,0.8L0,0L1,0.8", "filled": false, "stroke": "#E8A33C", "strokeWidth": 2, "size": 200, "opacity": 1},
     "encoding": {"angle": {"field": "heading", "type": "quantitative", "scale": null}}},
    {"data": {"values": [{"col": 2.772, "row": 3.87, "row2": 4.167}]},
     "mark": {"type": "rule", "stroke": "black", "strokeWidth": 2},
     "encoding": {"y2": {"field": "row2"}}}
   ]
  }
 ]
}
]
}
